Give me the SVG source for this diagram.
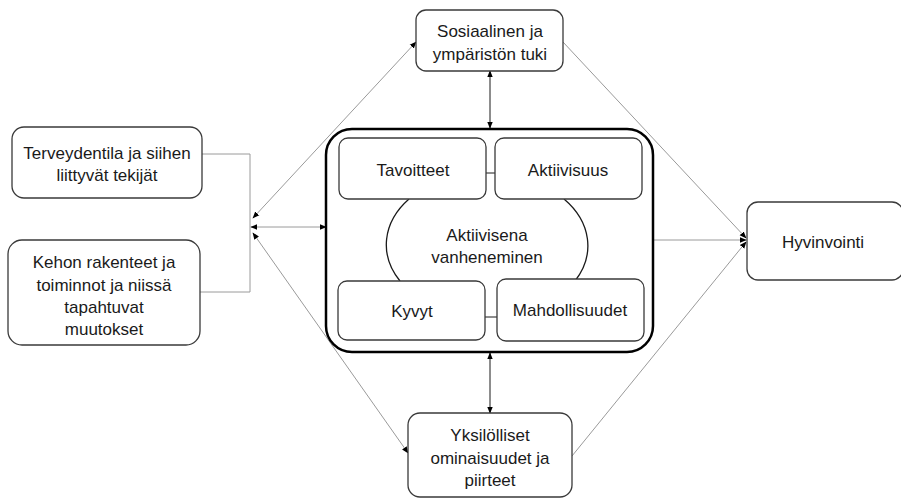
<svg xmlns="http://www.w3.org/2000/svg" width="901" height="498" viewBox="0 0 901 498">
<style>
.box{fill:#fff;stroke:#3a3a3a;stroke-width:1.3}
.big{fill:#fff;stroke:#000;stroke-width:2.5}
.t{font-family:"Liberation Sans",Arial,sans-serif;font-size:17px;fill:#1a1a1a;text-anchor:middle;dominant-baseline:central}
.g{fill:none;stroke:#9a9a9a;stroke-width:1}
.k{fill:none;stroke:#1a1a1a;stroke-width:1}
.arc{fill:none;stroke:#1a1a1a;stroke-width:1.3}
</style>
<defs>
<marker id="ah" viewBox="0 0 10 10" refX="9" refY="5" markerWidth="7" markerHeight="7" orient="auto-start-reverse" markerUnits="userSpaceOnUse">
<path d="M0,1 L10,5 L0,9 z" fill="#000"/>
</marker>
</defs>
<g id="connectors">
<path class="g" d="M202,154 H250 V292 H200"/>
<line class="g" x1="253" y1="218" x2="416" y2="42" marker-start="url(#ah)" marker-end="url(#ah)"/>
<line class="g" x1="253" y1="233" x2="408" y2="453" marker-start="url(#ah)" marker-end="url(#ah)"/>
<line class="g" x1="251" y1="227" x2="326" y2="227" marker-start="url(#ah)" marker-end="url(#ah)"/>
<line class="g" x1="563" y1="42" x2="746" y2="238" marker-end="url(#ah)"/>
<line class="g" x1="653" y1="240" x2="746" y2="240" marker-end="url(#ah)"/>
<line class="g" x1="572" y1="456" x2="746" y2="242" marker-end="url(#ah)"/>
<line class="k" x1="490" y1="71" x2="490" y2="128" marker-start="url(#ah)" marker-end="url(#ah)"/>
<line class="k" x1="490" y1="353" x2="490" y2="413" marker-start="url(#ah)" marker-end="url(#ah)"/>
</g>
<g id="social">
<rect class="box" x="416" y="10" width="147" height="61" rx="10"/>
<text class="t" x="490" y="31">Sosiaalinen ja</text>
<text class="t" x="490" y="54">ympäristön tuki</text>
</g>
<g id="terveys">
<rect class="box" x="12" y="127" width="190" height="71" rx="12"/>
<text class="t" x="107" y="153">Terveydentila ja siihen</text>
<text class="t" x="107" y="175">liittyvät tekijät</text>
</g>
<g id="kehon">
<rect class="box" x="8" y="240" width="192" height="105" rx="14"/>
<text class="t" x="104" y="262">Kehon rakenteet ja</text>
<text class="t" x="104" y="285">toiminnot ja niissä</text>
<text class="t" x="104" y="307">tapahtuvat</text>
<text class="t" x="104" y="329">muutokset</text>
</g>
<g id="aktiivinen">
<rect class="big" x="326" y="129" width="327" height="223" rx="26"/>
<path class="arc" d="M409,199 A100,72 0 0 0 400,281"/>
<path class="arc" d="M564,199 A100,72 0 0 1 575,281"/>
<line class="k" x1="486" y1="173" x2="495" y2="173" stroke-width="1.3"/>
<line class="k" x1="485" y1="317" x2="497" y2="317" stroke-width="1.3"/>
<rect class="box" x="339" y="138" width="147" height="61" rx="9"/>
<text class="t" x="413" y="170">Tavoitteet</text>
<rect class="box" x="495" y="138" width="147" height="61" rx="9"/>
<text class="t" x="568" y="170">Aktiivisuus</text>
<rect class="box" x="338" y="281" width="147" height="59" rx="9"/>
<text class="t" x="412" y="311">Kyvyt</text>
<rect class="box" x="497" y="279" width="147" height="62" rx="9"/>
<text class="t" x="570" y="310">Mahdollisuudet</text>
<text class="t" x="487" y="235">Aktiivisena</text>
<text class="t" x="487" y="257">vanheneminen</text>
</g>
<g id="hyvinvointi">
<rect class="box" x="747" y="202" width="156" height="78" rx="11"/>
<text class="t" x="823" y="242">Hyvinvointi</text>
</g>
<g id="yksilolliset">
<rect class="box" x="408" y="413" width="164" height="84" rx="12"/>
<text class="t" x="490" y="435">Yksilölliset</text>
<text class="t" x="490" y="458">ominaisuudet ja</text>
<text class="t" x="490" y="480">piirteet</text>
</g>
</svg>
